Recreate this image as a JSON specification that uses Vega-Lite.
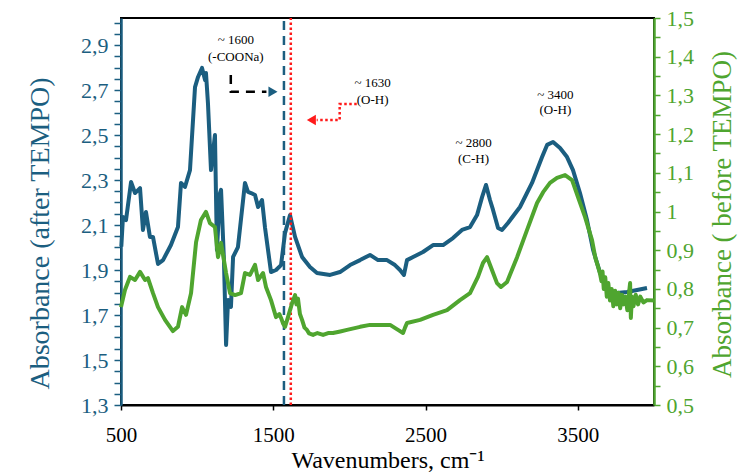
{
  "$schema": "https://vega.github.io/schema/vega-lite/v6.json",
  "width": 533,
  "height": 387,
  "autosize": {"type": "none"},
  "padding": {"left": 121, "top": 18, "right": 100, "bottom": 69},
  "background": "white",
  "config": {
    "view": {"stroke": "black", "strokeWidth": 2},
    "font": "Liberation Serif",
    "axis": {"labelFont": "Liberation Serif", "titleFont": "Liberation Serif", "titleFontWeight": "normal", "grid": false, "labelOverlap": false, "labelFlush": false}
  },
  "datasets": {
    "blue": [
      {"wn": 502, "a": 2.004}, {"wn": 513, "a": 2.136}, {"wn": 533, "a": 2.122}, {"wn": 566, "a": 2.291},
      {"wn": 592, "a": 2.242}, {"wn": 625, "a": 2.264}, {"wn": 644, "a": 2.078}, {"wn": 664, "a": 2.158},
      {"wn": 690, "a": 2.047}, {"wn": 710, "a": 2.047}, {"wn": 743, "a": 1.927}, {"wn": 776, "a": 1.944},
      {"wn": 828, "a": 2.011}, {"wn": 874, "a": 2.091}, {"wn": 894, "a": 2.287}, {"wn": 920, "a": 2.269},
      {"wn": 953, "a": 2.344}, {"wn": 986, "a": 2.713}, {"wn": 1006, "a": 2.758}, {"wn": 1032, "a": 2.798},
      {"wn": 1052, "a": 2.744}, {"wn": 1058, "a": 2.776}, {"wn": 1071, "a": 2.642}, {"wn": 1091, "a": 2.344},
      {"wn": 1117, "a": 2.5}, {"wn": 1130, "a": 1.989}, {"wn": 1150, "a": 2.242}, {"wn": 1157, "a": 2.256},
      {"wn": 1176, "a": 1.944}, {"wn": 1190, "a": 1.567}, {"wn": 1203, "a": 1.767}, {"wn": 1222, "a": 1.736},
      {"wn": 1236, "a": 1.958}, {"wn": 1268, "a": 2.002}, {"wn": 1314, "a": 2.287}, {"wn": 1334, "a": 2.247},
      {"wn": 1354, "a": 2.242}, {"wn": 1380, "a": 2.233}, {"wn": 1400, "a": 2.18}, {"wn": 1426, "a": 2.211},
      {"wn": 1446, "a": 2.087}, {"wn": 1485, "a": 1.891}, {"wn": 1518, "a": 1.9}, {"wn": 1551, "a": 1.922},
      {"wn": 1577, "a": 2.064}, {"wn": 1610, "a": 2.144}, {"wn": 1643, "a": 2.047}, {"wn": 1689, "a": 1.958},
      {"wn": 1741, "a": 1.913}, {"wn": 1787, "a": 1.887}, {"wn": 1873, "a": 1.878}, {"wn": 1938, "a": 1.891},
      {"wn": 2004, "a": 1.922}, {"wn": 2070, "a": 1.944}, {"wn": 2135, "a": 1.967}, {"wn": 2188, "a": 1.944},
      {"wn": 2247, "a": 1.944}, {"wn": 2299, "a": 1.922}, {"wn": 2332, "a": 1.9}, {"wn": 2358, "a": 1.878},
      {"wn": 2378, "a": 1.944}, {"wn": 2418, "a": 1.958}, {"wn": 2483, "a": 1.98}, {"wn": 2549, "a": 2.011},
      {"wn": 2615, "a": 2.011}, {"wn": 2680, "a": 2.042}, {"wn": 2739, "a": 2.078}, {"wn": 2792, "a": 2.091},
      {"wn": 2838, "a": 2.144}, {"wn": 2871, "a": 2.224}, {"wn": 2897, "a": 2.278}, {"wn": 2923, "a": 2.211},
      {"wn": 2943, "a": 2.167}, {"wn": 2976, "a": 2.087}, {"wn": 3002, "a": 2.078}, {"wn": 3041, "a": 2.109},
      {"wn": 3120, "a": 2.18}, {"wn": 3199, "a": 2.287}, {"wn": 3265, "a": 2.402}, {"wn": 3298, "a": 2.456},
      {"wn": 3337, "a": 2.469}, {"wn": 3383, "a": 2.442}, {"wn": 3429, "a": 2.402}, {"wn": 3468, "a": 2.344},
      {"wn": 3514, "a": 2.242}, {"wn": 3560, "a": 2.122}, {"wn": 3600, "a": 1.989}, {"wn": 3646, "a": 1.887},
      {"wn": 3692, "a": 1.811}, {"wn": 3757, "a": 1.798}, {"wn": 3823, "a": 1.802}, {"wn": 3889, "a": 1.811},
      {"wn": 3954, "a": 1.82}
    ],
    "green": [
      {"wn": 500, "g": 0.753}, {"wn": 526, "g": 0.797}, {"wn": 559, "g": 0.831}, {"wn": 592, "g": 0.823},
      {"wn": 625, "g": 0.844}, {"wn": 658, "g": 0.823}, {"wn": 677, "g": 0.828}, {"wn": 710, "g": 0.789},
      {"wn": 743, "g": 0.753}, {"wn": 789, "g": 0.72}, {"wn": 841, "g": 0.691}, {"wn": 874, "g": 0.702},
      {"wn": 901, "g": 0.753}, {"wn": 927, "g": 0.733}, {"wn": 960, "g": 0.789}, {"wn": 993, "g": 0.921},
      {"wn": 1025, "g": 0.978}, {"wn": 1058, "g": 0.999}, {"wn": 1084, "g": 0.97}, {"wn": 1117, "g": 0.96},
      {"wn": 1137, "g": 0.882}, {"wn": 1157, "g": 0.919}, {"wn": 1190, "g": 0.841}, {"wn": 1216, "g": 0.789},
      {"wn": 1249, "g": 0.784}, {"wn": 1288, "g": 0.789}, {"wn": 1314, "g": 0.841}, {"wn": 1347, "g": 0.836},
      {"wn": 1380, "g": 0.862}, {"wn": 1400, "g": 0.823}, {"wn": 1433, "g": 0.841}, {"wn": 1452, "g": 0.805},
      {"wn": 1485, "g": 0.771}, {"wn": 1518, "g": 0.727}, {"wn": 1540, "g": 0.735}, {"wn": 1551, "g": 0.725},
      {"wn": 1565, "g": 0.71}, {"wn": 1577, "g": 0.702}, {"wn": 1595, "g": 0.725}, {"wn": 1610, "g": 0.745},
      {"wn": 1625, "g": 0.765}, {"wn": 1643, "g": 0.784}, {"wn": 1652, "g": 0.76}, {"wn": 1662, "g": 0.775},
      {"wn": 1675, "g": 0.735}, {"wn": 1689, "g": 0.72}, {"wn": 1705, "g": 0.7}, {"wn": 1721, "g": 0.694},
      {"wn": 1735, "g": 0.685}, {"wn": 1761, "g": 0.681}, {"wn": 1790, "g": 0.686}, {"wn": 1827, "g": 0.681},
      {"wn": 1860, "g": 0.686}, {"wn": 1892, "g": 0.686}, {"wn": 1940, "g": 0.69}, {"wn": 1984, "g": 0.694},
      {"wn": 2070, "g": 0.702}, {"wn": 2135, "g": 0.707}, {"wn": 2201, "g": 0.707}, {"wn": 2267, "g": 0.707},
      {"wn": 2319, "g": 0.694}, {"wn": 2352, "g": 0.686}, {"wn": 2365, "g": 0.7}, {"wn": 2378, "g": 0.712},
      {"wn": 2464, "g": 0.72}, {"wn": 2549, "g": 0.733}, {"wn": 2641, "g": 0.745}, {"wn": 2726, "g": 0.771},
      {"wn": 2792, "g": 0.789}, {"wn": 2844, "g": 0.831}, {"wn": 2877, "g": 0.867}, {"wn": 2904, "g": 0.882},
      {"wn": 2936, "g": 0.849}, {"wn": 2969, "g": 0.815}, {"wn": 2995, "g": 0.805}, {"wn": 3035, "g": 0.818},
      {"wn": 3101, "g": 0.882}, {"wn": 3166, "g": 0.952}, {"wn": 3232, "g": 1.022}, {"wn": 3272, "g": 1.05},
      {"wn": 3317, "g": 1.074}, {"wn": 3363, "g": 1.087}, {"wn": 3416, "g": 1.094}, {"wn": 3462, "g": 1.081},
      {"wn": 3501, "g": 1.037}, {"wn": 3547, "g": 0.986}, {"wn": 3593, "g": 0.926}, {"wn": 3615, "g": 0.88},
      {"wn": 3633, "g": 0.857}, {"wn": 3645, "g": 0.84}, {"wn": 3655, "g": 0.82}, {"wn": 3662, "g": 0.845},
      {"wn": 3670, "g": 0.8}, {"wn": 3680, "g": 0.83}, {"wn": 3690, "g": 0.78}, {"wn": 3700, "g": 0.815},
      {"wn": 3711, "g": 0.77}, {"wn": 3722, "g": 0.8}, {"wn": 3733, "g": 0.755}, {"wn": 3745, "g": 0.795},
      {"wn": 3757, "g": 0.76}, {"wn": 3767, "g": 0.79}, {"wn": 3778, "g": 0.75}, {"wn": 3790, "g": 0.785},
      {"wn": 3800, "g": 0.76}, {"wn": 3812, "g": 0.78}, {"wn": 3825, "g": 0.745}, {"wn": 3835, "g": 0.785},
      {"wn": 3843, "g": 0.815}, {"wn": 3848, "g": 0.725}, {"wn": 3855, "g": 0.78}, {"wn": 3865, "g": 0.755},
      {"wn": 3880, "g": 0.785}, {"wn": 3895, "g": 0.76}, {"wn": 3910, "g": 0.78}, {"wn": 3930, "g": 0.765},
      {"wn": 3954, "g": 0.771}, {"wn": 4000, "g": 0.77}
    ],
    "vlines": [
      {"wn": 1570, "a": 1.3, "a2": 3.02, "kind": "COONa"},
      {"wn": 1615, "a": 1.3, "a2": 3.02, "kind": "OH"}
    ],
    "blackArrow": [
      {"i": 1, "wn": 1221, "a": 2.767}, {"i": 2, "wn": 1221, "a": 2.692}, {"i": 3, "wn": 1455, "a": 2.692}
    ],
    "redArrow": [
      {"i": 1, "wn": 2048, "a": 2.638}, {"i": 2, "wn": 1936, "a": 2.638}, {"i": 3, "wn": 1936, "a": 2.567}, {"i": 4, "wn": 1785, "a": 2.567}
    ],
    "heads": [
      {"wn": 1498, "a": 2.692, "dir": "right"},
      {"wn": 1750, "a": 2.567, "dir": "left"}
    ],
    "labels": [
      {"wn": 1254, "a": 2.922, "t": "~ 1600"}, {"wn": 1254, "a": 2.847, "t": "(-COONa)"},
      {"wn": 2152, "a": 2.731, "t": "~ 1630"}, {"wn": 2152, "a": 2.656, "t": "(O-H)"},
      {"wn": 2815, "a": 2.464, "t": "~ 2800"}, {"wn": 2815, "a": 2.393, "t": "(C-H)"},
      {"wn": 3352, "a": 2.678, "t": "~ 3400"}, {"wn": 3352, "a": 2.611, "t": "(O-H)"}
    ]
  },
  "encoding": {
    "x": {
      "field": "wn", "type": "quantitative",
      "scale": {"domain": [500, 4000], "nice": false, "zero": false},
      "axis": {
        "values": [500, 1500, 2500, 3500], "format": "d",
        "title": "Wavenumbers, cm⁻¹", "titleFontSize": 24, "titleColor": "black", "titlePadding": 3,
        "labelFontSize": 21, "labelColor": "black", "labelPadding": 14,
        "domainColor": "black", "domainWidth": 2, "tickColor": "black", "tickSize": 5, "tickWidth": 1.5
      }
    }
  },
  "resolve": {"scale": {"y": "independent"}},
  "layer": [
    {
      "encoding": {
        "y": {
          "field": "a", "type": "quantitative",
          "scale": {"domain": [1.3, 3.02], "nice": false, "zero": false},
          "axis": {
            "orient": "left",
            "values": [1.3, 1.35, 1.4, 1.45, 1.5, 1.55, 1.6, 1.65, 1.7, 1.75, 1.8, 1.85, 1.9, 1.95, 2.0, 2.05, 2.1, 2.15, 2.2, 2.25, 2.3, 2.35, 2.4, 2.45, 2.5, 2.55, 2.6, 2.65, 2.7, 2.75, 2.8, 2.85, 2.9, 2.95, 3.0],
            "labelExpr": "round(datum.value*100) % 20 == 10 ? replace(format(datum.value, '.1f'), '.', ',') : ''",
            "title": "Absorbance (after TEMPO)", "titleFontSize": 28, "titleColor": "#1b5e80", "titlePadding": 26, "titleY": 215,
            "labelFontSize": 22, "labelColor": "#1b5e80", "labelPadding": 6,
            "domainColor": "#1b5e80", "domainWidth": 2.5, "tickColor": "#1b5e80", "tickSize": 7, "tickWidth": 1.5
          }
        }
      },
      "layer": [
        {
          "data": {"name": "blue"},
          "mark": {"type": "line", "color": "#1b5e80", "strokeWidth": 4, "strokeJoin": "round"}
        },
        {
          "data": {"name": "vlines"},
          "mark": {"type": "rule", "strokeWidth": 2.5},
          "encoding": {
            "y2": {"field": "a2"},
            "color": {"field": "kind", "type": "nominal", "scale": {"domain": ["COONa", "OH"], "range": ["#1b5e80", "#ff1a1a"]}, "legend": null},
            "strokeDash": {"field": "kind", "type": "nominal", "scale": {"domain": ["COONa", "OH"], "range": [[9, 6], [2.5, 2.5]]}, "legend": null}
          }
        },
        {
          "data": {"name": "blackArrow"},
          "mark": {"type": "line", "color": "black", "strokeWidth": 2.5, "strokeDash": [9, 7]},
          "encoding": {"order": {"field": "i", "type": "quantitative"}}
        },
        {
          "data": {"name": "redArrow"},
          "mark": {"type": "line", "color": "#ff1a1a", "strokeWidth": 2.5, "strokeDash": [2.5, 2.5]},
          "encoding": {"order": {"field": "i", "type": "quantitative"}}
        },
        {
          "data": {"name": "heads"},
          "mark": {"type": "point", "filled": true, "size": 110, "opacity": 1},
          "encoding": {
            "shape": {"field": "dir", "type": "nominal", "scale": {"domain": ["right", "left"], "range": ["triangle-right", "triangle-left"]}, "legend": null},
            "color": {"field": "dir", "type": "nominal", "scale": {"domain": ["right", "left"], "range": ["black", "#ff1a1a"]}, "legend": null}
          }
        },
        {
          "data": {"name": "labels"},
          "mark": {"type": "text", "font": "Liberation Serif", "fontSize": 13, "color": "black", "align": "center", "baseline": "middle"},
          "encoding": {"text": {"field": "t"}}
        }
      ]
    },
    {
      "data": {"name": "green"},
      "mark": {"type": "line", "color": "#4fa52f", "strokeWidth": 4, "strokeJoin": "round"},
      "encoding": {
        "y": {
          "field": "g", "type": "quantitative",
          "scale": {"domain": [0.5, 1.5], "nice": false, "zero": false},
          "axis": {
            "orient": "right",
            "values": [0.5, 0.55, 0.6, 0.65, 0.7, 0.75, 0.8, 0.85, 0.9, 0.95, 1.0, 1.05, 1.1, 1.15, 1.2, 1.25, 1.3, 1.35, 1.4, 1.45, 1.5],
            "labelExpr": "round(datum.value*100) % 10 == 0 ? replace(format(datum.value, '~g'), '.', ',') : ''",
            "title": "Absorbance ( before TEMPO)", "titleFontSize": 27, "titleColor": "#4fa52f", "titlePadding": 16, "titleAngle": 270, "titleBaseline": "top", "titleY": 196,
            "labelFontSize": 22, "labelColor": "#4fa52f", "labelPadding": 6,
            "domainColor": "#4fa52f", "domainWidth": 2.5, "tickColor": "#4fa52f", "tickSize": 6, "tickWidth": 1.5
          }
        }
      }
    }
  ]
}
